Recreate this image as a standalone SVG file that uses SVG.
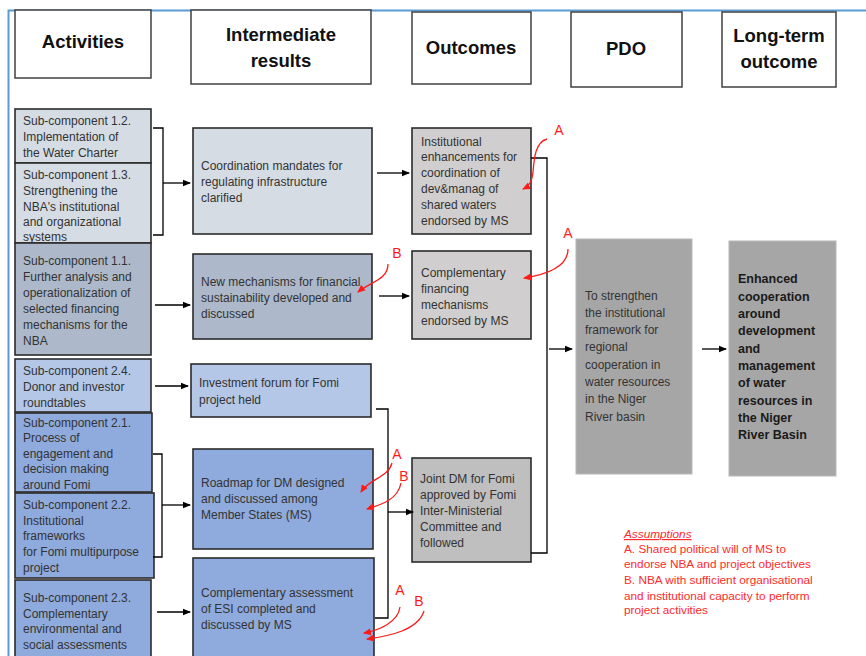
<svg xmlns="http://www.w3.org/2000/svg" width="866" height="656" viewBox="0 0 866 656">
<defs>
<marker id="ab" viewBox="0 0 8 8" refX="7" refY="4" markerWidth="8" markerHeight="8" markerUnits="userSpaceOnUse" orient="auto"><path d="M0,0.8 L8,4 L0,7.2 Z" fill="#000"/></marker>
<marker id="ar" viewBox="0 0 8 8" refX="7" refY="4" markerWidth="8" markerHeight="8" markerUnits="userSpaceOnUse" orient="auto"><path d="M0,0.5 L8,4 L0,7.5 Z" fill="#FF1A1A"/></marker>
<style>
.hd{fill:#fff;stroke:#404040;stroke-width:1.5}
.ht{font-family:"Liberation Sans",Arial,sans-serif;font-weight:bold;font-size:18.5px;fill:#111;text-anchor:middle}
.bx{stroke:#2b2b2b;stroke-width:1.6}
.c1{fill:#D6DCE4}.c2{fill:#ADB9CA}.c3{fill:#B4C7E7}.c4{fill:#8FAADC}.g1{fill:#D0CECE}.g2{fill:#BFBFBF}
.g3{fill:#A6A6A6;stroke:#B8B8B8;stroke-width:1}
.t{font-family:"Liberation Sans",Arial,sans-serif;font-size:12px;fill:#333}
.tb{font-family:"Liberation Sans",Arial,sans-serif;font-size:12.5px;font-weight:bold;fill:#1a1a1a}
.ln{fill:none;stroke:#000;stroke-width:1.3}
.rd{fill:none;stroke:#FF1A1A;stroke-width:1.3}
.rl{font-family:"Liberation Sans",Arial,sans-serif;font-size:14px;fill:#FF1A1A;text-anchor:middle}
.as{font-family:"Liberation Sans",Arial,sans-serif;font-size:11.8px;fill:#FF2A2A}
</style>
</defs>
<rect width="866" height="656" fill="#fff"/>
<g id="frame"><path d="M8.5,656 V10.5 H866" fill="none" stroke="#5B9BD5" stroke-width="2"/></g>

<g id="h-activities"><rect class="hd" x="15" y="10" width="136" height="68"/><text class="ht" x="83" y="48">Activities</text></g>
<g id="h-ir"><rect class="hd" x="191" y="10" width="180" height="74"/><text class="ht" x="281" y="41">Intermediate</text><text class="ht" x="281" y="67">results</text></g>
<g id="h-outcomes"><rect class="hd" x="412" y="12" width="119" height="72"/><text class="ht" x="471" y="54">Outcomes</text></g>
<g id="h-pdo"><rect class="hd" x="571" y="12" width="111" height="75"/><text class="ht" x="626" y="55">PDO</text></g>
<g id="h-lt"><rect class="hd" x="722" y="12" width="114" height="75"/><text class="ht" x="779" y="42">Long-term</text><text class="ht" x="779" y="68">outcome</text></g>

<g id="sc12"><rect class="bx c1" x="15" y="109" width="136" height="54"/><text class="t" x="23"><tspan x="23" y="125">Sub-component 1.2.</tspan><tspan x="23" y="141">Implementation  of</tspan><tspan x="23" y="157">the Water  Charter</tspan></text></g>
<g id="sc13"><rect class="bx c1" x="15" y="163" width="136" height="80"/><text class="t"><tspan x="23" y="179">Sub-component 1.3.</tspan><tspan x="23" y="195">Strengthening the</tspan><tspan x="23" y="211">NBA's institutional</tspan><tspan x="23" y="226">and organizational</tspan><tspan x="23" y="241">systems</tspan></text></g>
<g id="sc11"><rect class="bx c2" x="15" y="243" width="136" height="112"/><text class="t"><tspan x="23" y="265">Sub-component 1.1.</tspan><tspan x="23" y="281">Further analysis and</tspan><tspan x="23" y="297">operationalization of</tspan><tspan x="23" y="313">selected financing</tspan><tspan x="23" y="329">mechanisms for the</tspan><tspan x="23" y="345">NBA</tspan></text></g>
<g id="sc24"><rect class="bx c3" x="15" y="359" width="136" height="53"/><text class="t"><tspan x="23" y="375">Sub-component 2.4.</tspan><tspan x="23" y="391">Donor and investor</tspan><tspan x="23" y="407">roundtables</tspan></text></g>
<g id="sc21"><rect class="bx c4" x="15" y="413" width="137" height="79"/><text class="t"><tspan x="23" y="427">Sub-component 2.1.</tspan><tspan x="23" y="442">Process of</tspan><tspan x="23" y="458">engagement  and</tspan><tspan x="23" y="473">decision making</tspan><tspan x="23" y="489">around Fomi</tspan></text></g>
<g id="sc22"><rect class="bx c4" x="15" y="493" width="139" height="85"/><text class="t"><tspan x="23" y="509">Sub-component 2.2.</tspan><tspan x="23" y="525">Institutional</tspan><tspan x="23" y="540">frameworks</tspan><tspan x="23" y="556">for Fomi multipurpose</tspan><tspan x="23" y="572">project</tspan></text></g>
<g id="sc23"><rect class="bx c4" x="15" y="580" width="136" height="82"/><text class="t"><tspan x="23" y="602">Sub-component 2.3.</tspan><tspan x="23" y="618">Complementary</tspan><tspan x="23" y="633">environmental  and</tspan><tspan x="23" y="649">social assessments</tspan></text></g>

<g id="ir-coord"><rect class="bx c1" x="193" y="128" width="179" height="106"/><text class="t"><tspan x="201" y="170">Coordination mandates for</tspan><tspan x="201" y="186">regulating  infrastructure</tspan><tspan x="201" y="202">clarified</tspan></text></g>
<g id="ir-mech"><rect class="bx c2" x="193" y="254" width="179" height="85"/><text class="t"><tspan x="201" y="286">New mechanisms for financial</tspan><tspan x="201" y="302">sustainability developed  and</tspan><tspan x="201" y="318">discussed</tspan></text></g>
<g id="ir-forum"><rect class="bx c3" x="191" y="364" width="180" height="53"/><text class="t"><tspan x="199" y="387">Investment  forum for Fomi</tspan><tspan x="199" y="404">project held</tspan></text></g>
<g id="ir-roadmap"><rect class="bx c4" x="193" y="449" width="180" height="100"/><text class="t"><tspan x="201" y="487">Roadmap for DM designed</tspan><tspan x="201" y="503">and discussed among</tspan><tspan x="201" y="519">Member States (MS)</tspan></text></g>
<g id="ir-esi"><rect class="bx c4" x="193" y="558" width="181" height="104"/><text class="t"><tspan x="201" y="597">Complementary  assessment</tspan><tspan x="201" y="613">of ESI completed  and</tspan><tspan x="201" y="629">discussed by MS</tspan></text></g>

<g id="oc-inst"><rect class="bx g1" x="412" y="128" width="119" height="106"/><text class="t"><tspan x="421" y="146">Institutional</tspan><tspan x="421" y="161">enhancements  for</tspan><tspan x="421" y="177">coordination of</tspan><tspan x="421" y="193">dev&amp;manag  of</tspan><tspan x="421" y="209">shared waters</tspan><tspan x="421" y="225">endorsed by MS</tspan></text></g>
<g id="oc-fin"><rect class="bx g1" x="412" y="251" width="119" height="88"/><text class="t"><tspan x="421" y="277">Complementary</tspan><tspan x="421" y="293">financing</tspan><tspan x="421" y="309">mechanisms</tspan><tspan x="421" y="325">endorsed by MS</tspan></text></g>
<g id="oc-joint"><rect class="bx g2" x="412" y="458" width="119" height="104"/><text class="t"><tspan x="420" y="483">Joint DM for Fomi</tspan><tspan x="420" y="499">approved  by Fomi</tspan><tspan x="420" y="515">Inter-Ministerial</tspan><tspan x="420" y="531">Committee  and</tspan><tspan x="420" y="547">followed</tspan></text></g>

<g id="pdo"><rect class="g3" x="576" y="239" width="116" height="235"/><text class="t"><tspan x="585" y="300">To strengthen</tspan><tspan x="585" y="317">the institutional</tspan><tspan x="585" y="334">framework for</tspan><tspan x="585" y="351">regional</tspan><tspan x="585" y="369">cooperation  in</tspan><tspan x="585" y="386">water resources</tspan><tspan x="585" y="403">in the Niger</tspan><tspan x="585" y="421">River basin</tspan></text></g>
<g id="longterm"><rect class="g3" x="729" y="241" width="107" height="235"/><text class="tb"><tspan x="738" y="283">Enhanced</tspan><tspan x="738" y="301">cooperation</tspan><tspan x="738" y="318">around</tspan><tspan x="738" y="335">development</tspan><tspan x="738" y="353">and</tspan><tspan x="738" y="370">management</tspan><tspan x="738" y="387">of water</tspan><tspan x="738" y="405">resources in</tspan><tspan x="738" y="422">the Niger</tspan><tspan x="738" y="439">River Basin</tspan></text></g>

<g id="connectors">
<path class="ln" d="M153,128 H163 V235 H153"/>
<path class="ln" d="M163,183 H190" marker-end="url(#ab)"/>
<path class="ln" d="M155,305 H190" marker-end="url(#ab)"/>
<path class="ln" d="M377,173 H409" marker-end="url(#ab)"/>
<path class="ln" d="M379,296 H409" marker-end="url(#ab)"/>
<path class="ln" d="M155,386 H188" marker-end="url(#ab)"/>
<path class="ln" d="M153,454 H162 V557 H153"/>
<path class="ln" d="M162,505 H190" marker-end="url(#ab)"/>
<path class="ln" d="M157,612 H190" marker-end="url(#ab)"/>
<path class="ln" d="M376,409 H388 V618 H375"/>
<path class="ln" d="M388,512 H413" marker-end="url(#ab)"/>
<path class="ln" d="M531,158 H547 V553 H531"/>
<path class="ln" d="M549,349 H572" marker-end="url(#ab)"/>
<path class="ln" d="M702,349 H726" marker-end="url(#ab)"/>
</g>

<g id="assumption-links">
<path class="rd" d="M547,139 C535,142 534,160 533,172 C532,182 529,186 523,189" marker-end="url(#ar)"/>
<text class="rl" x="559" y="135">A</text>
<path class="rd" d="M568,249 C568,266 550,274 524,278" marker-end="url(#ar)"/>
<text class="rl" x="568" y="238">A</text>
<path class="rd" d="M388,264 C388,280 370,282 358,292" marker-end="url(#ar)"/>
<text class="rl" x="397" y="258">B</text>
<path class="rd" d="M392,463 C388,478 370,478 361,492" marker-end="url(#ar)"/>
<text class="rl" x="397" y="459">A</text>
<path class="rd" d="M401,483 C398,500 380,505 367,509" marker-end="url(#ar)"/>
<text class="rl" x="404" y="481">B</text>
<path class="rd" d="M400,607 C398,622 380,630 364,633" marker-end="url(#ar)"/>
<text class="rl" x="400" y="595">A</text>
<path class="rd" d="M424,611 C418,630 390,636 367,639" marker-end="url(#ar)"/>
<text class="rl" x="419" y="606">B</text>
</g>

<g id="assumptions">
<text class="as" x="624" y="538" font-style="italic" text-decoration="underline">Assumptions</text>
<text class="as"><tspan x="624" y="553">A. Shared political will of MS to</tspan><tspan x="624" y="568">endorse NBA and project objectives</tspan><tspan x="624" y="584">B. NBA with sufficient organisational</tspan><tspan x="624" y="600">and institutional capacity to perform</tspan><tspan x="624" y="614">project activities</tspan></text>
</g>
</svg>
